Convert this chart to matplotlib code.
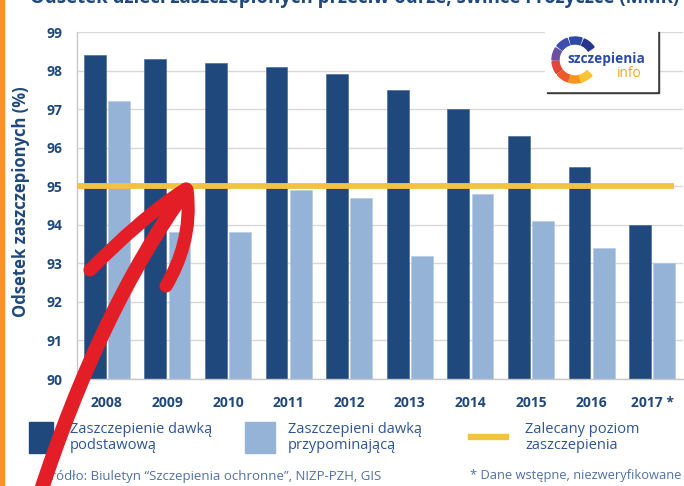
import matplotlib
matplotlib.use("Agg")
import matplotlib.pyplot as plt
import numpy as np
from matplotlib.patches import Rectangle, Wedge, PathPatch
from matplotlib.path import Path
from matplotlib.transforms import Affine2D

plt.rcParams['font.family'] = ['Open Sans', 'DejaVu Sans']

# ---------------- data ----------------
years = ["2008", "2009", "2010", "2011", "2012", "2013", "2014", "2015", "2016", "2017 *"]
primary_dose = [98.4, 98.3, 98.2, 98.1, 97.9, 97.5, 97.0, 96.3, 95.5, 94.0]
booster_dose = [97.2, 93.8, 93.8, 94.9, 94.7, 93.2, 94.8, 94.1, 93.4, 93.0]
recommended_level = 95
y_ticks = [90, 91, 92, 93, 94, 95, 96, 97, 98, 99]

title = "Odsetek dzieci zaszczepionych przeciw odrze, śwince i różyczce (MMR)"
y_label = "Odsetek zaszczepionych (%)"
legend_labels = ["Zaszczepienie dawką\npodstawową", "Zaszczepieni dawką\nprzypominającą",
                 "Zalecany poziom\nzaszczepienia"]
source_note = "Źródło: Biuletyn “Szczepienia ochronne”, NIZP-PZH, GIS"
prelim_note = "* Dane wstępne, niezweryfikowane"

# ---------------- style ----------------
DARK = '#1F497D'
LIGHT = '#95B3D7'
YELLOW = '#F2C242'
NAVY_TXT = '#1F497D'
LEG_TXT = '#2F5597'
FOOT_TXT = '#5271A3'
RED = '#E31E26'
ORANGE = '#F7922F'
GRID = '#D9D9D9'

W, H = 684, 486
fig = plt.figure(figsize=(W / 100, H / 100), dpi=100)
px = Affine2D().scale(1 / 100, -1 / 100).translate(0, H / 100) + fig.dpi_scale_trans


def fx(x):
    return x / W


def fy(y):
    return 1 - y / H


ax_l, ax_r, ax_t, ax_b = 76.5, 682.5, 32, 379
ax = fig.add_axes([fx(ax_l), fy(ax_b), (ax_r - ax_l) / W, (ax_b - ax_t) / H])

x = np.arange(len(years))
bw = 0.36
ax.bar(x - 0.2, primary_dose, width=bw, color=DARK, zorder=2,
       edgecolor='#3D5F8F', linewidth=0.4)
ax.bar(x + 0.2, booster_dose, width=bw, color=LIGHT, zorder=2,
       edgecolor='#B3C8E3', linewidth=0.4)
ax.axhline(recommended_level, xmin=0, xmax=(674 - ax_l) / (ax_r - ax_l),
           color=YELLOW, linewidth=4.2, zorder=3, solid_capstyle='butt')

ax.set_xlim(-0.5, len(years) - 0.5)
ax.set_ylim(90, 99)
ax.set_yticks(y_ticks)
ax.set_xticks(x)
ax.set_xticklabels(years)
ax.yaxis.grid(True, color=GRID, linewidth=1.0, zorder=0)
ax.set_axisbelow(True)
for s in ['top', 'right']:
    ax.spines[s].set_visible(False)
for s in ['left', 'bottom']:
    ax.spines[s].set_color('#C8C8C8')
    ax.spines[s].set_linewidth(1.0)
ax.tick_params(axis='both', length=0, colors=NAVY_TXT, labelsize=10)
ax.tick_params(axis='y', pad=10)
ax.tick_params(axis='x', pad=12)
for lab in ax.get_xticklabels() + ax.get_yticklabels():
    lab.set_fontweight('bold')
    lab.set_color(NAVY_TXT)

# y label
fig.text(fx(21), fy(202), y_label, rotation=90, ha='center', va='center',
         fontsize=12, fontweight='bold', color=NAVY_TXT)

# title (cut off at the top, as in the reference) - sized to span the measured width
t = fig.text(fx(30), fy(3.5), title, ha='left', va='baseline', fontsize=12,
             fontweight='bold', color=NAVY_TXT)
r = fig.canvas.get_renderer()
wpx = t.get_window_extent(renderer=r).width
t.set_fontsize(12 * 648 / wpx)

# orange stripe on the left
fig.add_artist(Rectangle((0, 0), 4, H, transform=px, color=ORANGE, zorder=1))

# ---------------- legend ----------------
fig.add_artist(Rectangle((29, 422), 24, 31, transform=px, color=DARK))
fig.text(fx(70), fy(437.5), legend_labels[0], ha='left', va='center',
         fontsize=10.5, color=LEG_TXT, linespacing=1.05)
fig.add_artist(Rectangle((245, 422), 30, 31, transform=px, color=LIGHT))
fig.text(fx(288), fy(437.5), legend_labels[1], ha='left', va='center',
         fontsize=10.5, color=LEG_TXT, linespacing=1.05)
fig.add_artist(Rectangle((468, 434.5), 40, 5, transform=px, color=YELLOW))
fig.text(fx(525), fy(437.5), legend_labels[2], ha='left', va='center',
         fontsize=10.5, color=LEG_TXT, linespacing=1.05)

# footer
fig.text(fx(43), fy(475), source_note, ha='left', va='center', fontsize=9.5, color=FOOT_TXT)
fig.text(fx(681), fy(475), prelim_note, ha='right', va='center', fontsize=9.3, color=FOOT_TXT)

# ---------------- logo box ----------------
fig.add_artist(Rectangle((547, 32), 112, 61, transform=px, color='#3A3A3A', zorder=4))
fig.add_artist(Rectangle((545, 30), 112, 61, transform=px, color='white', zorder=5))
ring_cx, ring_cy = 575, 60
seg_colors = ['#27348B', '#2C4AA6', '#3A4FB0', '#6A4FA3', '#E2443B', '#EC5B2A', '#F7941D', '#F9C433']
seg_centers = [50, 88, 126, 164, 200, 236, 270, 302]
for c, a in zip(seg_colors, seg_centers):
    fig.add_artist(Wedge((ring_cx, ring_cy), 23, -(a + 16), -(a - 16), width=7,
                         transform=px, color=c, zorder=6))
fig.text(fx(567), fy(63), "szczepienia", ha='left', va='baseline', fontsize=9.8,
         fontweight='bold', color='#2C4AA6', zorder=7)
fig.text(fx(642), fy(77), "info", ha='right', va='baseline', fontsize=9.8,
         color='#F5A623', zorder=7)

# ---------------- red hand-drawn arrow ----------------
def stroke(pts, lw):
    path = Path(pts, [Path.MOVETO, Path.CURVE4, Path.CURVE4, Path.CURVE4])
    fig.add_artist(PathPatch(path, transform=px, facecolor='none', edgecolor=RED,
                             linewidth=lw, capstyle='round', joinstyle='round', zorder=10))


stroke([(38, 500), (80, 370), (130, 268), (186, 190)], 10.5)
stroke([(90, 270), (120, 240), (155, 208), (186, 189)], 9.5)
stroke([(187, 190), (192, 230), (180, 262), (166, 286)], 9.5)

fig.savefig("out.png", dpi=100)
